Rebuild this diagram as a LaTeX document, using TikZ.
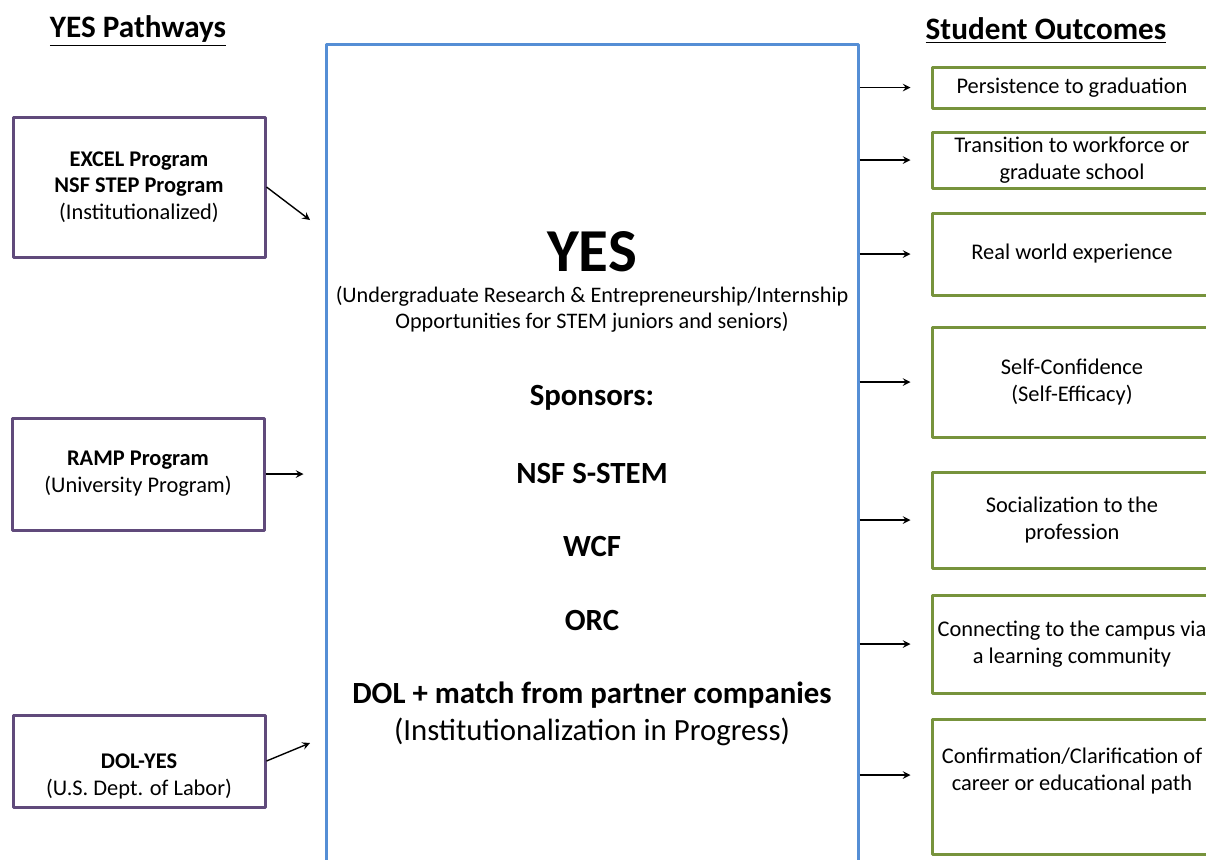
\documentclass[tikz,border=0pt]{standalone}
\usepackage{fontspec}
\setmainfont{Carlito}
\usetikzlibrary{positioning}
\definecolor{pathpurple}{RGB}{96,74,123}
\definecolor{outgreen}{RGB}{119,147,60}
\definecolor{hubblue}{RGB}{85,142,213}
\begin{document}
\begin{tikzpicture}[x=0.5pt,y=-0.5pt, line join=round, >=stealth,
	font=\fontsize{11.2}{13.4}\selectfont,
	pathbox/.style={rectangle,draw=pathpurple,line width=1.5pt,minimum width=126pt,align=center,inner sep=0pt},
	outbox/.style={rectangle,draw=outgreen,line width=1.5pt,minimum width=140pt,align=center,inner sep=0pt},
	hubbox/.style={rectangle,draw=hubblue,line width=1.5pt,minimum width=266pt,minimum height=418pt},
	head/.style={font=\fontsize{15.6}{18}\selectfont\bfseries},
	spons/.style={font=\fontsize{15.4}{18.5}\selectfont\bfseries},
	link/.style={-stealth,line width=0.7pt}]
	\useasboundingbox (0,0) rectangle (1206,859);
	% headings
	\path (138,31) node[head](hpath){\underline{YES Pathways}}
	(1046,31) node[head](hout){\underline{Student Outcomes}};
	% centre box
	\node[hubbox](hub) at (592,462){};
	\path (592,252) node[font=\fontsize{30.5}{36}\selectfont\bfseries](yes){YES}
	++(0,57) node[align=center,font=\fontsize{11.1}{13}\selectfont](sub){(Undergraduate Research \& Entrepreneurship/Internship\\
		Opportunities for STEM juniors and seniors)}
	++(0,89) node[spons](sp){Sponsors:}
	++(0,75) node[spons](nsf){NSF S-STEM}
	++(0,73) node[spons](wcf){WCF}
	++(0,74) node[spons](orc){ORC}
	++(0,75) node[spons](dol){DOL + match from partner companies}
	++(0,37) node[font=\fontsize{15.4}{18.5}\selectfont](inst){(Institutionalization in Progress)};
	% pathways
	\node[pathbox,minimum height=70pt](p1) at (139,187){\textbf{EXCEL Program}\\
		\textbf{NSF STEP Program}\\(Institutionalized)};
	\node[pathbox,minimum height=56pt](p2) at (138,474){\textbf{RAMP Program}\\(University Program)};
	\node[pathbox,minimum height=46pt](p3) at (139,761){\strut\\\textbf{DOL-YES}\\(U.S. Dept. of Labor)};
	\coordinate (in1) at (310,220);
	\coordinate (in3) at (310,743);
	\draw[link](p1.east)--(in1);
	\draw[link,shorten >=10.5pt](p2.east)--(hub.west |- p2.east);
	\draw[link](p3.east)--(in3);
	% outcomes
	\node[outbox,minimum height=20.5pt](o1) at (1072,87.5){Persistence to graduation};
	\node[outbox,minimum height=28pt](o2) at (1072,160){Transition to workforce or\\graduate school};
	\node[outbox,minimum height=41pt](o3) at (1072,254){Real world experience};
	\node[outbox,minimum height=55pt](o4) at (1072,382){Self-Confidence\\(Self-Efficacy)};
	\node[outbox,minimum height=48pt](o5) at (1072,520){Socialization to the\\profession};
	\node[outbox,minimum height=49pt](o6) at (1072,644){Connecting to the campus via\\a learning community};
	\node[outbox,minimum height=67.5pt](o7) at (1072,787){Confirmation/Clarification of\\career or educational path\\\strut};
	\coordinate (t7) at ([yshift=6pt]o7.west);
	\foreach \o in {o1,o2,o3,o4,o5,o6}
	\draw[link,shorten >=10pt](hub.east |- \o.west)--(\o.west);
	\draw[link,shorten >=10pt](hub.east |- t7)--(t7);
\end{tikzpicture}
\end{document}
